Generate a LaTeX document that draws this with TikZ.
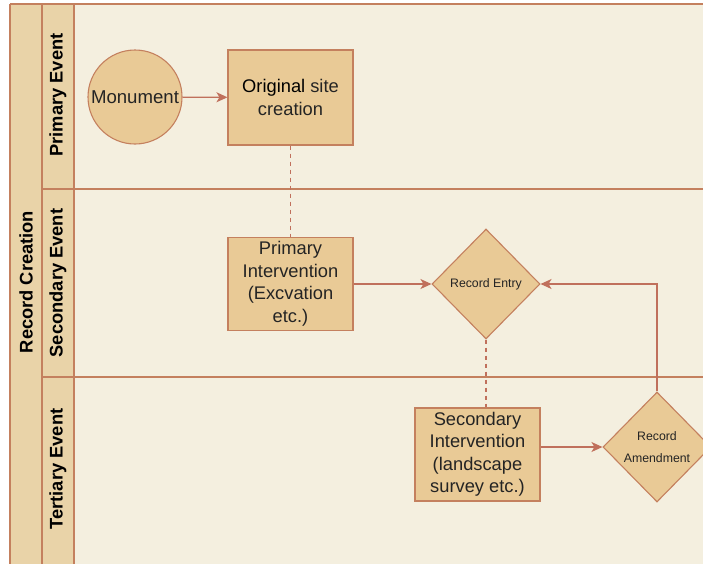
\documentclass[tikz,border=0pt]{standalone}
\usepackage{fontspec}
\setmainfont{Liberation Sans}
\usetikzlibrary{shapes.geometric,arrows.meta}
\definecolor{lanebg}{HTML}{F4EFDF}
\definecolor{headbg}{HTML}{E9D3A8}
\definecolor{nodefill}{HTML}{E9CA96}
\definecolor{edgecol}{HTML}{C4805E}
\definecolor{arrcol}{HTML}{C0705C}
\definecolor{txt}{HTML}{242424}
\tikzset{
  laneline/.style={draw=edgecol, line width=1.1pt},
  lanelabel/.style={rotate=90, font=\bfseries\fontsize{18.3}{20}\selectfont, text=black, inner sep=0pt},
  boxnode/.style={rectangle, draw=edgecol, fill=nodefill, line width=1.1pt, align=center,
    font=\fontsize{18.3}{22.5}\selectfont, text=txt, inner sep=0pt},
  circnode/.style={circle, draw=edgecol, fill=nodefill, line width=1.1pt, minimum size=94pt,
    inner sep=0pt, font=\fontsize{18.6}{22}\selectfont, text=txt},
  dianode/.style={diamond, draw=edgecol, fill=nodefill, line width=1.1pt, minimum width=108pt,
    minimum height=110pt, inner sep=0pt, align=center, font=\fontsize{12.3}{22}\selectfont, text=txt},
  flow/.style={draw=arrcol, line width=1.2pt, -{Stealth[length=11pt,width=10pt,inset=3pt]}},
  dashlink/.style={draw=arrcol, line width=1.1pt, dash pattern=on 4pt off 4pt}
}
\begin{document}
\begin{tikzpicture}[x=1pt,y=-1pt]
\useasboundingbox (0,0) rectangle (703,563);
\clip (0,0) rectangle (703,563);
\fill[white] (0,0) rectangle (703,563);
\fill[lanebg] (74,4) rectangle (720,570);
\fill[headbg] (10,4) rectangle (74,570);
% lane frame
\draw[laneline] (10,4) -- (720,4);
\draw[laneline] (42,189) -- (720,189);
\draw[laneline] (42,377) -- (720,377);
\draw[laneline] (10,4) -- (10,570);
\draw[laneline] (42,4) -- (42,570);
\draw[laneline] (74,4) -- (74,570);
% labels
\node[lanelabel] (lrc) at (26,282) {Record Creation};
\node[lanelabel] (lpe) at (58,95) {Primary Event};
\node[lanelabel] (lse) at (58,283) {Secondary Event};
\node[lanelabel] (lte) at (58,469) {Tertiary Event};
% nodes
\node[circnode] (mon) at (135,97) {Monument};
\node[boxnode, minimum width=125pt, minimum height=95pt] (orig) at (290.5,97.5)
  {\textcolor{black}{Original} site\\creation};
\node[boxnode, minimum width=125pt, minimum height=93pt] (pi) at (290.5,284)
  {Primary\\Intervention\\(Excvation\\etc.)};
\node[dianode] (re) at (486,284) {Record Entry};
\node[boxnode, minimum width=125pt, minimum height=93pt] (si) at (477.5,454.5)
  {Secondary\\Intervention\\(landscape\\survey etc.)};
\node[dianode] (ra) at (657,447) {Record\\Amendment};
% connectors
\draw[flow] (mon) -- (orig);
\draw[dashlink] (orig.south) -- (pi.north);
\draw[flow] (pi.east) -- (re.west);
\draw[dashlink] (re.south) -- (re.south |- si.north);
\draw[flow] (si.east |- ra.west) -- (ra.west);
\draw[flow] (ra.north) |- (re.east);
\end{tikzpicture}
\end{document}
